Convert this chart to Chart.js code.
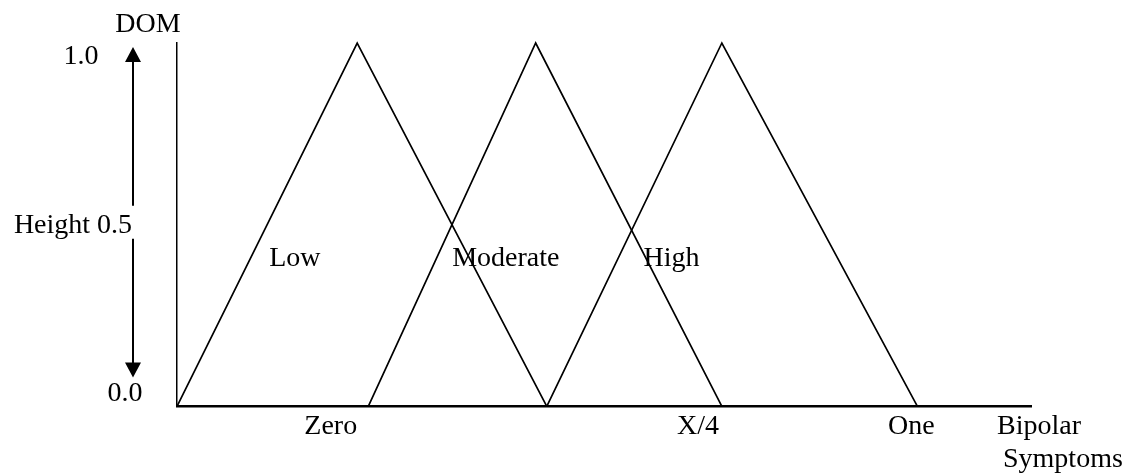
<!DOCTYPE html>
<html>
<head>
<meta charset="utf-8">
<script src="https://cdn.jsdelivr.net/npm/chart.js@4.4.1/dist/chart.umd.min.js"></script>
<style>
  body { margin: 0; background: #fff; }
  #wrap { width: 1130px; height: 474px; }
</style>
</head>
<body>
<div id="wrap"><canvas id="dom"></canvas></div>
<script>
// membership functions (x in 0..100 along the symptom axis, y = degree of membership)
var setNames = ["Low", "Moderate", "High"];
var lowX = [0, 21.1, 43.3];
var moderateX = [22.4, 42, 63.8];
var highX = [43.3, 63.8, 86.7];
var peakY = [0, 1, 0];

// x axis tick labels
var xTickValues = [18, 61, 86];
var xTickLabels = ["Zero", "X/4", "One"];

// y axis labels
var yTickValues = [0, 0.5, 1];
var yTickLabels = ["0.0", "Height 0.5", "1.0"];

// where the set names are written
var nameX = [13.8, 38.5, 57.9];
var nameY = 0.385;

var FONT = '28px "Liberation Serif", "Times New Roman", serif';

function toPoints(xs) {
  return xs.map(function (v, i) { return { x: v, y: peakY[i] }; });
}

var notes = {
  id: "notes",
  afterDraw: function (chart) {
    var ctx = chart.ctx;
    var a = chart.chartArea;
    var x = chart.scales.x;
    var y = chart.scales.y;
    ctx.save();
    ctx.fillStyle = "#000";
    ctx.strokeStyle = "#000";
    ctx.font = FONT;
    ctx.textBaseline = "alphabetic";
    ctx.textAlign = "center";

    // set names
    setNames.forEach(function (t, i) {
      ctx.fillText(t, x.getPixelForValue(nameX[i]), y.getPixelForValue(nameY));
    });

    // y labels, each sits a little differently in the original
    var yLabelX = [a.left - 52, a.left - 104, a.left - 96];
    var yLabelDy = [-5, 8, 21];
    yTickLabels.forEach(function (t, i) {
      ctx.fillText(t, yLabelX[i], y.getPixelForValue(yTickValues[i]) + yLabelDy[i]);
    });

    ctx.fillText("DOM", a.left - 29, a.top - 11);

    // axis title at the right end
    ctx.textAlign = "left";
    ctx.fillText("Bipolar", a.right - 34, a.bottom + 28);
    ctx.fillText("Symptoms", a.right - 28, a.bottom + 61);

    // double headed arrow beside the y axis, broken by the 0.5 label
    var ax = a.left - 44;
    var top = y.getPixelForValue(1) + 4;
    var bot = y.getPixelForValue(0) - 29;
    ctx.lineWidth = 2;
    ctx.beginPath();
    ctx.moveTo(ax, top + 14);
    ctx.lineTo(ax, y.getPixelForValue(0.5) - 19);
    ctx.moveTo(ax, y.getPixelForValue(0.5) + 14);
    ctx.lineTo(ax, bot - 14);
    ctx.stroke();
    ctx.beginPath();
    ctx.moveTo(ax, top);
    ctx.lineTo(ax - 8, top + 15);
    ctx.lineTo(ax + 8, top + 15);
    ctx.closePath();
    ctx.moveTo(ax, bot);
    ctx.lineTo(ax - 8, bot - 15);
    ctx.lineTo(ax + 8, bot - 15);
    ctx.closePath();
    ctx.fill();
    ctx.restore();
  }
};

var ctx = document.getElementById("dom").getContext("2d");

var domChart = new Chart(ctx, {
  type: "line",
  data: {
    datasets: [
      { label: setNames[0], data: toPoints(lowX) },
      { label: setNames[1], data: toPoints(moderateX) },
      { label: setNames[2], data: toPoints(highX) },
    ],
  },
  options: {
    responsive: true,
    maintainAspectRatio: false,
    animation: false,
    layout: { padding: { left: 177, right: 99, top: 43, bottom: 28 } },
    elements: {
      line: { borderColor: "#000", borderWidth: 1.7, tension: 0, fill: false },
      point: { radius: 0, hoverRadius: 0 },
    },
    datasets: { line: { clip: 6 } },
    plugins: {
      legend: { display: false },
      tooltip: { enabled: false },
    },
    scales: {
      x: {
        type: "linear",
        min: 0,
        max: 100,
        grid: { display: false, drawTicks: false },
        border: { display: true, color: "#000", width: 2.4 },
        afterBuildTicks: function (axis) {
          axis.ticks = xTickValues.map(function (v) { return { value: v }; });
        },
        ticks: {
          autoSkip: false,
          maxRotation: 0,
          padding: 3,
          color: "#000",
          font: { family: '"Liberation Serif", "Times New Roman", serif', size: 28 },
          callback: function (value, index) { return xTickLabels[index]; },
        },
      },
      y: {
        min: 0,
        max: 1,
        grid: { display: false, drawTicks: false },
        border: { display: true, color: "#000", width: 1.5 },
        ticks: { display: false },
      },
    },
  },
  plugins: [notes],
});
</script>
</body>
</html>
